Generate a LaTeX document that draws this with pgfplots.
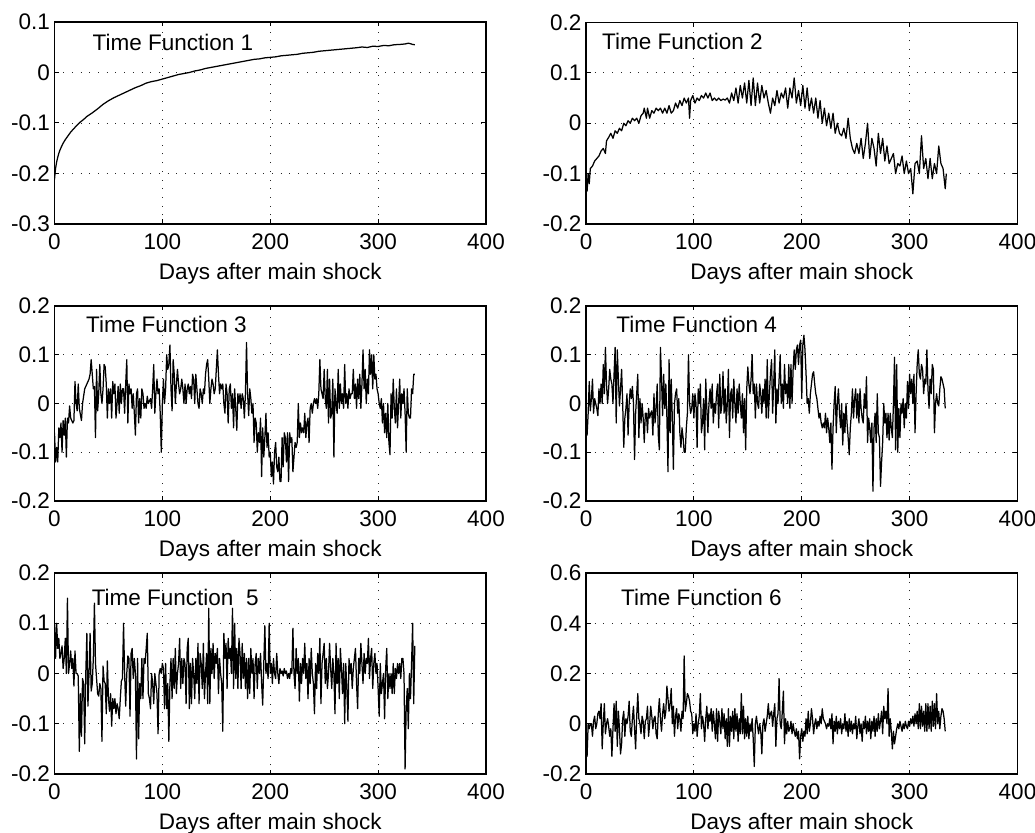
\documentclass[border=0pt]{standalone}
\usepackage{fontspec}
\setmainfont{Liberation Sans}
\usepackage{pgfplots}
\pgfplotsset{compat=1.18}
\newcommand{\tf}{\fontsize{22.5}{26}\selectfont}
\pgfplotsset{
  tfax/.style={
    scale only axis, width=431.5pt, anchor=south west,
    xmin=0, xmax=400, xtick={0,100,200,300,400}, xticklabels={0,100,200,300,400},
    tick align=inside, xtick pos=both, ytick pos=both, major tick length=4.5pt,
    grid=major, grid style={black!85, line width=0.9pt, dash pattern=on 0.9pt off 7.8pt},
    axis line style={line width=1.1pt},
    every tick/.style={black, line width=1pt},
    tick label style={font=\tf, inner sep=0pt},
    xticklabel style={yshift=-9.5pt},
    yticklabel style={xshift=-4.5pt},
    xlabel={Days after main shock},
    every axis x label/.style={font=\tf, at={(axis description cs:0.5,0)}, anchor=north, inner sep=0pt, yshift=-39pt},
    cycle list={{black, mark=none}},
    every axis plot post/.append style={black, line width=1.25pt, mark=none, line join=round},
  }
}
\begin{document}
\begin{tikzpicture}
\path[use as bounding box] (0pt,0pt) rectangle (1035pt,832pt);
% ---------------- 1
\begin{axis}[tfax, at={(54.5pt,608pt)}, height=202pt, ymin=-0.3, ymax=0.1,
  ytick={-0.3,-0.2,-0.1,0,0.1}, yticklabels={-0.3,-0.2,-0.1,0,0.1}]
\addplot coordinates {(0,-0.212)(0.5,-0.2)(1,-0.19)(2,-0.177)(3,-0.168)(4,-0.16)(5,-0.154)(6,-0.149)(8,-0.14)(10,-0.133)(12,-0.127)(15,-0.118)(18,-0.111)(21,-0.104)(24,-0.098)(27,-0.093)(30,-0.087)(35,-0.08)(40,-0.072)(45,-0.063)(50,-0.056)(55,-0.05)(60,-0.045)(65,-0.04)(70,-0.035)(75,-0.03)(80,-0.026)(85,-0.021)(90,-0.018)(95,-0.016)(100,-0.013)(105,-0.01)(110,-0.007)(115,-0.004)(120,-0.002)(125,0.0)(130,0.003)(135,0.005)(140,0.008)(145,0.01)(150,0.012)(155,0.014)(160,0.016)(165,0.018)(170,0.02)(175,0.022)(180,0.024)(185,0.026)(190,0.027)(195,0.029)(200,0.03)(205,0.031)(210,0.033)(215,0.034)(220,0.035)(225,0.036)(230,0.038)(235,0.039)(240,0.04)(245,0.042)(250,0.043)(255,0.044)(260,0.045)(265,0.046)(270,0.047)(275,0.048)(280,0.049)(285,0.0505)(290,0.0495)(295,0.052)(300,0.0515)(305,0.0535)(310,0.053)(315,0.055)(320,0.0555)(325,0.0565)(328,0.058)(330,0.057)(332,0.0555)(334,0.055)};
\node[anchor=west, font=\tf, inner sep=0pt] at (rel axis cs:0.088,0.9) {Time Function 1};
\end{axis}
% ---------------- 2
\begin{axis}[tfax, at={(586pt,608pt)}, height=201.5pt, ymin=-0.2, ymax=0.2,
  ytick={-0.2,-0.1,0,0.1,0.2}, yticklabels={-0.2,-0.1,0,0.1,0.2}]
\addplot coordinates {(0,-0.12)(1,-0.135)(2,-0.1)(3,-0.12)(4,-0.09)(6,-0.085)(8,-0.075)(10,-0.07)(12,-0.065)(14,-0.055)(16,-0.05)(18,-0.06)(19,-0.035)(21,-0.028)(23,-0.02)(25,-0.03)(27,-0.015)(29,-0.02)(31,-0.01)(33,-0.015)(35,0.0)(37,-0.005)(39,0.005)(41,0.0)(43,0.01)(45,0.005)(47,0.01)(49,0.0)(51,0.015)(53,0.02)(54,0.03)(56,0.01)(57,0.03)(59,0.01)(61,0.025)(63,0.02)(65,0.03)(67,0.025)(69,0.03)(71,0.02)(73,0.03)(75,0.02)(77,0.035)(79,0.02)(81,0.025)(83,0.04)(85,0.03)(87,0.045)(89,0.035)(91,0.05)(93,0.04)(95,0.05)(96,0.01)(97,0.045)(99,0.055)(101,0.04)(103,0.05)(105,0.045)(107,0.055)(109,0.05)(111,0.06)(113,0.05)(115,0.06)(117,0.045)(119,0.05)(121,0.045)(123,0.05)(125,0.045)(127,0.048)(129,0.046)(131,0.05)(133,0.04)(135,0.06)(137,0.045)(139,0.07)(141,0.04)(143,0.075)(145,0.05)(147,0.08)(149,0.04)(151,0.085)(153,0.035)(155,0.09)(157,0.035)(159,0.08)(161,0.04)(163,0.075)(165,0.05)(167,0.065)(169,0.04)(171,0.02)(173,0.05)(175,0.035)(177,0.065)(179,0.04)(181,0.06)(183,0.05)(185,0.07)(187,0.03)(189,0.07)(191,0.05)(193,0.09)(195,0.04)(197,0.065)(199,0.035)(201,0.075)(203,0.03)(205,0.07)(207,0.025)(209,0.05)(211,0.02)(213,0.05)(215,0.01)(217,0.045)(219,0.0)(221,0.03)(223,-0.005)(225,0.02)(227,-0.01)(229,0.02)(231,-0.02)(233,0.0)(235,-0.02)(237,-0.025)(239,-0.01)(241,-0.03)(243,0.01)(245,-0.03)(247,-0.05)(249,-0.06)(251,-0.04)(253,-0.06)(255,-0.03)(257,-0.07)(259,-0.04)(261,0.0)(263,-0.07)(265,-0.03)(267,-0.05)(269,-0.085)(271,-0.02)(273,-0.06)(275,-0.03)(277,-0.075)(279,-0.045)(281,-0.08)(283,-0.07)(285,-0.06)(287,-0.1)(289,-0.08)(291,-0.085)(293,-0.065)(295,-0.1)(297,-0.075)(299,-0.1)(301,-0.09)(303,-0.14)(305,-0.08)(307,-0.075)(309,-0.1)(311,-0.025)(313,-0.09)(315,-0.07)(317,-0.11)(319,-0.07)(321,-0.11)(323,-0.08)(325,-0.1)(327,-0.045)(329,-0.08)(331,-0.09)(333,-0.13)(334,-0.1)};
\node[anchor=west, font=\tf, inner sep=0pt] at (rel axis cs:0.037,0.905) {Time Function 2};
\end{axis}
% ---------------- 3
\begin{axis}[tfax, at={(54.5pt,331pt)}, height=195pt, ymin=-0.2, ymax=0.2,
  ytick={-0.2,-0.1,0,0.1,0.2}, yticklabels={-0.2,-0.1,0,0.1,0.2}]
\addplot coordinates {(0,-0.06)(1,-0.12)(2,-0.09)(3,-0.12)(4,-0.05)(5,-0.07)(6,-0.04)(7,-0.1)(8,-0.035)(9,-0.065)(10,-0.03)(11,-0.11)(12,-0.03)(13,-0.04)(14,-0.005)(15,-0.03)(16,-0.035)(17,-0.04)(18,-0.035)(19,0.045)(20,0.0)(21,-0.015)(22,0.04)(23,-0.01)(25,-0.035)(26,0.0)(28,0.03)(29,0.035)(30,0.04)(31,0.045)(32,0.05)(33,0.06)(34,0.09)(35,0.06)(36,0.03)(37,0.035)(38,-0.07)(39,0.07)(40,-0.015)(41,0.02)(42,0.08)(43,0.02)(44,0.0)(45,0.03)(46,0.08)(47,0.075)(48,0.04)(49,-0.03)(50,0.03)(51,0.0)(52,0.03)(53,-0.03)(54,0.045)(55,0.02)(56,0.04)(57,-0.03)(58,0.0)(59,0.035)(60,-0.02)(61,0.04)(62,0.0)(63,0.03)(64,0.03)(65,-0.02)(66,0.04)(67,0.09)(68,-0.04)(69,0.04)(70,0.02)(71,0.03)(72,-0.01)(73,0.02)(74,-0.02)(75,-0.065)(76,0.02)(77,0.03)(78,-0.04)(79,0.01)(80,-0.03)(81,0.03)(82,0.02)(83,-0.01)(84,0.0)(85,-0.01)(86,0.015)(87,0.0)(88,0.005)(89,0.01)(90,-0.01)(91,0.03)(92,0.08)(93,-0.02)(94,0.02)(95,0.05)(96,0.02)(97,0.03)(98,-0.02)(99,-0.1)(100,0.0)(101,0.05)(102,0.0)(103,0.03)(104,0.1)(105,0.07)(106,0.08)(107,0.12)(108,0.03)(109,-0.015)(110,0.09)(111,0.06)(112,0.0)(113,0.04)(114,0.07)(115,0.04)(116,0.02)(117,0.03)(118,0.05)(119,0.03)(120,0.0)(121,0.04)(122,0.0)(123,0.03)(124,0.04)(125,0.02)(126,0.035)(127,0.01)(128,0.06)(129,0.05)(130,0.0)(131,0.06)(132,0.03)(133,0.0)(134,-0.01)(135,0.03)(136,0.02)(137,0.0)(138,0.03)(139,0.02)(140,0.06)(141,0.08)(142,0.09)(143,0.05)(144,0.0)(145,0.03)(146,0.05)(147,0.04)(148,0.02)(149,0.03)(150,0.07)(151,0.11)(152,0.06)(153,0.02)(154,0.04)(155,0.03)(156,0.04)(157,0.0)(158,-0.02)(159,0.04)(160,0.02)(161,-0.04)(162,0.03)(163,0.04)(164,-0.01)(165,0.02)(166,-0.05)(167,0.03)(168,-0.01)(169,-0.055)(170,0.02)(171,0.0)(172,0.02)(173,-0.01)(174,0.02)(175,0.01)(176,-0.03)(177,0.02)(178,0.125)(179,0.02)(180,-0.025)(181,0.03)(182,0.01)(183,-0.02)(184,0.0)(185,-0.08)(186,-0.03)(187,-0.04)(188,-0.1)(189,-0.06)(190,-0.08)(191,-0.03)(192,-0.15)(193,-0.05)(194,-0.11)(195,-0.07)(196,-0.02)(197,-0.09)(198,-0.06)(199,-0.11)(200,-0.1)(201,-0.15)(202,-0.12)(203,-0.165)(204,-0.1)(205,-0.08)(206,-0.13)(207,-0.14)(208,-0.11)(209,-0.16)(210,-0.16)(211,-0.07)(212,-0.13)(213,-0.06)(214,-0.07)(215,-0.12)(216,-0.06)(217,-0.16)(218,-0.06)(219,-0.08)(220,-0.07)(221,-0.14)(222,-0.11)(223,-0.08)(224,-0.09)(225,-0.08)(226,0.0)(227,-0.07)(228,-0.04)(229,-0.06)(230,-0.05)(231,-0.06)(232,-0.02)(233,-0.07)(234,-0.04)(235,-0.03)(236,-0.08)(237,-0.01)(238,0.0)(239,-0.02)(240,0.0)(241,0.01)(242,0.0)(243,0.01)(244,-0.01)(245,0.02)(246,0.09)(247,0.03)(248,0.02)(249,0.01)(250,0.07)(251,0.01)(252,-0.01)(253,0.07)(254,-0.04)(255,0.05)(256,-0.03)(257,-0.02)(258,0.05)(259,-0.11)(260,0.03)(261,0.0)(262,-0.02)(263,0.07)(264,-0.01)(265,0.04)(266,0.0)(267,0.02)(268,-0.01)(269,0.08)(270,0.0)(271,0.02)(272,-0.01)(273,0.03)(274,0.01)(275,0.02)(276,0.02)(277,0.07)(278,0.01)(279,0.04)(280,-0.01)(281,0.05)(282,0.01)(283,0.06)(284,-0.01)(285,0.04)(286,0.11)(287,0.03)(288,0.07)(289,0.0)(290,0.05)(291,0.02)(292,0.11)(293,0.06)(294,0.1)(295,0.03)(296,0.1)(297,0.05)(298,0.06)(299,0.03)(300,0.02)(301,0.0)(302,-0.01)(303,0.01)(304,-0.04)(305,0.0)(306,-0.06)(307,-0.02)(308,-0.07)(309,0.0)(310,-0.08)(311,-0.105)(312,0.02)(313,-0.03)(314,0.05)(315,-0.01)(316,-0.04)(317,0.03)(318,-0.05)(319,0.0)(320,0.05)(321,-0.03)(322,0.02)(323,0.0)(324,0.03)(325,-0.02)(326,-0.1)(327,0.03)(328,-0.02)(329,-0.03)(330,-0.03)(331,0.03)(332,0.02)(333,0.06)(334,0.06)};
\node[anchor=west, font=\tf, inner sep=0pt] at (rel axis cs:0.073,0.906) {Time Function 3};
\end{axis}
% ---------------- 4
\begin{axis}[tfax, at={(586pt,331pt)}, height=195pt, ymin=-0.2, ymax=0.2,
  ytick={-0.2,-0.1,0,0.1,0.2}, yticklabels={-0.2,-0.1,0,0.1,0.2}]
\addplot coordinates {(0,-0.03)(1,-0.065)(2,-0.02)(3,0.045)(4,-0.015)(5,0.01)(6,0.05)(7,-0.02)(8,0.01)(9,0.0)(10,-0.01)(11,-0.025)(12,0.03)(13,0.0)(14,0.04)(15,0.0)(16,0.08)(17,0.02)(18,0.115)(19,0.04)(20,0.0)(21,0.03)(22,0.07)(23,0.05)(24,0.04)(25,0.0)(26,0.06)(27,0.115)(28,-0.04)(29,0.11)(30,0.05)(31,-0.005)(32,0.03)(33,0.07)(34,0.0)(35,-0.09)(36,-0.03)(37,-0.01)(38,0.02)(39,-0.065)(40,0.0)(41,0.03)(42,0.01)(43,0.035)(44,0.0)(45,-0.115)(46,-0.02)(47,0.02)(48,0.06)(49,-0.07)(50,0.01)(51,-0.04)(52,0.0)(53,-0.03)(54,-0.08)(55,-0.02)(56,-0.02)(57,-0.06)(58,-0.01)(59,-0.03)(60,-0.02)(61,-0.015)(62,-0.065)(63,0.02)(64,-0.04)(65,-0.01)(66,0.04)(67,-0.065)(68,-0.095)(69,0.115)(70,0.05)(71,-0.025)(72,0.06)(73,-0.01)(74,0.04)(75,-0.03)(76,-0.14)(77,0.09)(78,-0.06)(79,0.05)(80,-0.03)(81,-0.135)(82,0.0)(83,0.02)(84,0.03)(85,-0.02)(86,0.01)(87,-0.06)(88,-0.09)(89,-0.05)(90,-0.07)(91,-0.1)(92,-0.1)(93,-0.05)(94,-0.02)(95,0.1)(96,0.0)(97,-0.02)(98,-0.01)(99,0.02)(100,-0.03)(101,0.02)(102,0.0)(103,-0.09)(104,0.03)(105,0.0)(106,0.04)(107,-0.06)(108,-0.04)(109,0.01)(110,-0.095)(111,0.05)(112,-0.01)(113,-0.06)(114,0.0)(115,0.03)(116,-0.01)(117,0.04)(118,-0.04)(119,0.0)(120,-0.02)(121,0.02)(122,0.04)(123,-0.05)(124,0.06)(125,-0.02)(126,0.0)(127,0.065)(128,-0.02)(129,0.03)(130,-0.04)(131,0.0)(132,0.07)(133,-0.07)(134,0.02)(135,0.03)(136,-0.03)(137,0.05)(138,0.0)(139,-0.04)(140,0.03)(141,-0.02)(142,0.04)(143,0.0)(144,-0.03)(145,0.02)(146,-0.06)(147,0.01)(148,-0.095)(149,0.03)(150,0.075)(151,0.04)(152,0.02)(153,0.05)(154,0.1)(155,0.02)(156,0.04)(157,-0.03)(158,0.04)(159,0.0)(160,-0.01)(161,0.04)(162,0.02)(163,-0.02)(164,0.03)(165,0.0)(166,0.05)(167,-0.03)(168,0.09)(169,-0.03)(170,0.02)(171,0.06)(172,0.09)(173,-0.02)(174,0.04)(175,0.11)(176,-0.04)(177,0.03)(178,0.0)(179,0.05)(180,0.1)(181,0.0)(182,0.04)(183,-0.01)(184,0.08)(185,0.02)(186,0.04)(187,0.0)(188,0.08)(189,-0.01)(190,0.08)(191,0.0)(192,0.07)(193,0.11)(194,0.07)(195,0.11)(196,0.12)(197,0.08)(198,0.12)(199,0.13)(200,0.01)(201,0.12)(202,0.14)(203,0.11)(204,0.06)(205,0.0)(206,0.01)(207,-0.02)(208,0.02)(209,0.04)(210,0.06)(211,0.065)(212,0.04)(213,0.02)(214,0.01)(215,-0.01)(216,-0.03)(217,-0.02)(218,-0.04)(219,-0.05)(220,-0.04)(221,-0.05)(222,-0.02)(223,-0.06)(224,-0.03)(225,-0.05)(226,-0.08)(227,-0.04)(228,-0.135)(229,-0.05)(230,0.0)(231,0.035)(232,-0.06)(233,0.0)(234,0.03)(235,-0.02)(236,-0.05)(237,0.0)(238,-0.085)(239,-0.02)(240,-0.06)(241,0.0)(242,-0.04)(243,-0.07)(244,-0.105)(245,-0.05)(246,-0.02)(247,0.03)(248,-0.03)(249,0.01)(250,0.03)(251,-0.03)(252,0.02)(253,-0.04)(254,0.03)(255,-0.01)(256,-0.03)(257,-0.04)(258,0.02)(259,-0.01)(260,0.055)(261,-0.08)(262,-0.03)(263,-0.05)(264,-0.08)(265,-0.04)(266,-0.18)(267,-0.05)(268,-0.02)(269,-0.08)(270,0.02)(271,-0.06)(272,-0.07)(273,-0.17)(274,-0.12)(275,-0.08)(276,0.0)(277,-0.04)(278,-0.02)(279,-0.07)(280,-0.02)(281,-0.075)(282,-0.02)(283,-0.05)(284,-0.07)(285,0.0)(286,0.095)(287,-0.095)(288,0.08)(289,-0.1)(290,-0.01)(291,-0.07)(292,0.0)(293,-0.02)(294,0.01)(295,-0.05)(296,0.0)(297,-0.03)(298,0.045)(299,-0.01)(300,0.06)(301,0.02)(302,0.05)(303,0.0)(304,0.06)(305,-0.06)(306,0.02)(307,0.08)(308,0.11)(309,0.06)(310,0.05)(311,0.08)(312,0.07)(313,0.02)(314,0.05)(315,0.04)(316,0.11)(317,0.03)(318,-0.01)(319,0.05)(320,0.02)(321,0.08)(322,0.07)(323,-0.06)(324,0.0)(325,0.02)(326,0.0)(327,-0.005)(328,0.03)(329,0.055)(330,0.05)(331,0.04)(332,0.03)(333,-0.01)};
\node[anchor=west, font=\tf, inner sep=0pt] at (rel axis cs:0.07,0.906) {Time Function 4};
\end{axis}
% ---------------- 5
\begin{axis}[tfax, at={(54.5pt,58pt)}, height=201pt, ymin=-0.2, ymax=0.2,
  ytick={-0.2,-0.1,0,0.1,0.2}, yticklabels={-0.2,-0.1,0,0.1,0.2}]
\node[anchor=west, font=\tf, inner sep=0pt] at (rel axis cs:0.086,0.877) {Time Function~~5};
\addplot coordinates {(0,0.1)(1,0.03)(2,0.1)(3,0.05)(4,0.07)(5,0.03)(6,0.04)(7,0.055)(8,0.01)(9,0.03)(10,0.07)(11,0.0)(12,0.15)(13,0.0)(14,0.02)(15,0.045)(16,0.01)(17,0.03)(18,-0.025)(19,0.045)(20,0.0)(21,0.0)(22,-0.005)(23,-0.155)(24,-0.04)(25,-0.125)(26,-0.01)(27,-0.02)(28,-0.14)(29,0.0)(30,0.08)(31,-0.065)(32,0.0)(33,0.08)(34,-0.035)(35,-0.02)(36,0.03)(37,0.14)(38,0.02)(39,-0.01)(40,-0.04)(41,-0.045)(42,-0.02)(43,-0.03)(44,-0.135)(45,0.015)(46,-0.015)(47,-0.02)(48,-0.08)(49,0.025)(50,-0.05)(51,-0.075)(52,-0.04)(53,-0.105)(54,-0.05)(55,-0.07)(56,-0.05)(57,-0.08)(58,-0.06)(59,-0.07)(60,-0.09)(61,-0.05)(62,-0.015)(63,-0.01)(64,0.1)(65,0.0)(66,-0.065)(67,0.0)(68,0.035)(69,0.03)(70,-0.085)(71,0.04)(72,0.05)(73,-0.01)(74,0.03)(75,0.0)(76,-0.17)(77,0.03)(78,-0.13)(79,-0.02)(80,-0.05)(81,0.03)(82,-0.05)(83,0.03)(84,0.02)(85,0.05)(86,0.08)(87,-0.04)(88,-0.05)(89,-0.07)(90,0.0)(91,-0.02)(92,-0.06)(93,0.0)(94,-0.02)(95,-0.04)(96,-0.12)(97,0.0)(98,0.01)(99,0.0)(100,0.02)(101,0.01)(102,-0.07)(103,0.02)(104,-0.07)(105,-0.02)(106,-0.135)(107,-0.02)(108,0.03)(109,-0.05)(110,0.03)(111,-0.03)(112,0.05)(113,-0.04)(114,0.0)(115,0.02)(116,0.07)(117,-0.03)(118,0.03)(119,-0.02)(120,0.03)(121,0.02)(122,-0.06)(123,0.05)(124,0.07)(125,-0.07)(126,0.02)(127,-0.06)(128,0.03)(129,0.0)(130,-0.05)(131,0.03)(132,-0.02)(133,0.06)(134,-0.06)(135,0.04)(136,0.02)(137,-0.03)(138,0.06)(139,-0.05)(140,0.0)(141,0.04)(142,-0.06)(143,0.13)(144,-0.06)(145,0.05)(146,0.0)(147,0.06)(148,-0.01)(149,0.04)(150,0.02)(151,0.05)(152,-0.04)(153,0.03)(154,0.0)(155,-0.02)(156,-0.115)(157,0.08)(158,0.03)(159,0.06)(160,-0.03)(161,0.07)(162,0.03)(163,0.05)(164,0.0)(165,0.13)(166,-0.03)(167,0.1)(168,-0.01)(169,0.05)(170,-0.03)(171,0.07)(172,0.04)(173,-0.03)(174,0.06)(175,-0.01)(176,0.04)(177,-0.03)(178,0.03)(179,-0.05)(180,0.03)(181,-0.04)(182,0.05)(183,0.0)(184,0.03)(185,-0.05)(186,0.02)(187,0.04)(188,-0.03)(189,0.03)(190,0.0)(191,0.04)(192,-0.02)(193,-0.063)(194,0.02)(195,0.095)(196,0.0)(197,0.02)(198,-0.01)(199,0.1)(200,0.0)(201,0.02)(202,-0.02)(203,0.03)(204,0.0)(205,-0.01)(206,0.04)(207,0.0)(208,-0.02)(209,0.01)(210,0.0)(211,0.005)(212,-0.005)(213,0.01)(214,0.0)(215,0.005)(216,-0.01)(217,0.0)(218,-0.01)(219,0.01)(220,0.0)(221,0.09)(222,0.0)(223,-0.03)(224,0.05)(225,0.0)(226,0.03)(227,-0.055)(228,0.02)(229,-0.02)(230,0.03)(231,0.0)(232,0.06)(233,-0.01)(234,0.02)(235,-0.05)(236,0.03)(237,-0.02)(238,0.05)(239,0.0)(240,-0.02)(241,-0.08)(242,0.02)(243,-0.03)(244,0.04)(245,0.0)(246,0.07)(247,-0.06)(248,0.02)(249,0.04)(250,0.06)(251,-0.02)(252,0.03)(253,-0.03)(254,0.0)(255,0.06)(256,0.01)(257,-0.03)(258,0.03)(259,0.0)(260,-0.08)(261,0.06)(262,-0.02)(263,0.03)(264,-0.05)(265,0.05)(266,0.01)(267,-0.04)(268,0.02)(269,-0.1)(270,0.02)(271,-0.03)(272,-0.095)(273,0.03)(274,0.0)(275,0.02)(276,-0.03)(277,0.01)(278,0.03)(279,0.05)(280,-0.02)(281,-0.07)(282,0.03)(283,0.0)(284,0.06)(285,0.02)(286,-0.02)(287,0.04)(288,0.0)(289,0.03)(290,0.02)(291,0.07)(292,-0.01)(293,0.03)(294,0.05)(295,-0.03)(296,0.02)(297,0.04)(298,0.0)(299,0.02)(300,-0.03)(301,-0.085)(302,0.02)(303,-0.04)(304,-0.02)(305,0.0)(306,-0.09)(307,0.01)(308,0.05)(309,-0.05)(310,0.0)(311,-0.03)(312,0.0)(313,-0.04)(314,0.02)(315,-0.04)(316,0.01)(317,-0.01)(318,0.02)(319,0.0)(320,0.02)(321,-0.01)(322,0.03)(323,0.03)(324,0.0)(325,-0.19)(326,-0.07)(327,-0.03)(328,-0.11)(329,0.0)(330,-0.05)(331,0.02)(332,0.1)(333,-0.06)(334,0.055)};
\end{axis}
% ---------------- 6
\begin{axis}[tfax, at={(586pt,58pt)}, height=201pt, ymin=-0.2, ymax=0.6,
  ytick={-0.2,0,0.2,0.4,0.6}, yticklabels={-0.2,0,0.2,0.4,0.6}]
\addplot coordinates {(0,0.0)(1,-0.13)(2,0.0)(3,-0.02)(4,0.0)(5,0.0)(6,-0.05)(7,0.01)(8,0.03)(9,-0.02)(10,0.0)(11,0.04)(12,0.05)(13,0.02)(14,0.08)(15,-0.1)(16,0.0)(17,0.08)(18,-0.04)(19,0.0)(20,0.02)(21,-0.01)(22,-0.05)(23,-0.02)(24,-0.13)(25,-0.02)(26,0.08)(27,-0.03)(28,0.09)(29,-0.09)(30,0.05)(31,-0.02)(32,-0.12)(33,-0.08)(34,0.02)(35,0.05)(36,-0.05)(37,0.02)(38,0.0)(39,0.03)(40,0.09)(41,-0.03)(42,-0.05)(43,0.02)(44,0.07)(45,-0.02)(46,-0.1)(47,0.03)(48,0.12)(49,0.02)(50,0.0)(51,-0.04)(52,0.03)(53,0.01)(54,-0.06)(55,0.01)(56,0.02)(57,0.07)(58,-0.05)(59,0.0)(60,0.07)(61,0.03)(62,-0.02)(63,0.02)(64,0.03)(65,-0.04)(66,-0.06)(67,0.04)(68,0.1)(69,0.02)(70,-0.03)(71,0.04)(72,0.08)(73,0.02)(74,0.05)(75,0.15)(76,0.1)(77,0.05)(78,0.08)(79,0.14)(80,0.0)(81,0.07)(82,-0.05)(83,0.03)(84,0.06)(85,-0.02)(86,0.04)(87,0.02)(88,-0.03)(89,0.05)(90,0.02)(91,0.27)(92,0.05)(93,0.08)(94,0.12)(95,0.11)(96,0.09)(97,0.05)(98,0.04)(99,-0.04)(100,0.0)(101,-0.03)(102,0.04)(103,-0.05)(104,0.0)(105,0.03)(106,0.12)(107,-0.02)(108,0.03)(109,0.0)(110,-0.07)(111,0.02)(112,0.07)(113,-0.02)(114,0.04)(115,0.01)(116,0.06)(117,-0.03)(118,0.05)(119,0.0)(120,-0.06)(121,0.06)(122,-0.07)(123,0.05)(124,0.01)(125,-0.04)(126,0.06)(127,-0.02)(128,0.04)(129,-0.06)(130,0.02)(131,-0.09)(132,0.06)(133,-0.09)(134,0.03)(135,-0.03)(136,0.05)(137,-0.06)(138,0.06)(139,-0.03)(140,0.04)(141,-0.07)(142,0.02)(143,-0.04)(144,0.12)(145,-0.04)(146,0.07)(147,-0.06)(148,0.02)(149,-0.05)(150,0.03)(151,-0.06)(152,0.0)(153,-0.03)(154,0.02)(155,-0.06)(156,-0.17)(157,0.0)(158,0.03)(159,-0.01)(160,-0.04)(161,0.0)(162,-0.03)(163,-0.12)(164,0.0)(165,0.02)(166,-0.03)(167,0.0)(168,0.03)(169,0.08)(170,0.02)(171,0.04)(172,0.05)(173,-0.01)(174,0.04)(175,0.08)(176,-0.09)(177,0.02)(178,0.04)(179,0.18)(180,0.0)(181,-0.02)(182,0.05)(183,0.13)(184,-0.08)(185,0.02)(186,-0.04)(187,0.01)(188,-0.03)(189,-0.02)(190,0.01)(191,-0.04)(192,0.0)(193,-0.03)(194,-0.05)(195,-0.02)(196,-0.06)(197,-0.03)(198,-0.14)(199,-0.05)(200,-0.02)(201,-0.07)(202,-0.03)(203,-0.05)(204,0.02)(205,-0.04)(206,0.05)(207,-0.03)(208,0.0)(209,0.06)(210,0.02)(211,-0.04)(212,0.0)(213,0.02)(214,-0.02)(215,0.01)(216,-0.01)(217,0.03)(218,0.0)(219,0.06)(220,0.02)(221,0.01)(222,0.0)(223,-0.02)(224,0.0)(225,-0.01)(226,0.02)(227,-0.02)(228,0.04)(229,-0.08)(230,0.01)(231,-0.03)(232,0.03)(233,-0.04)(234,0.01)(235,-0.02)(236,0.02)(237,-0.04)(238,0.0)(239,-0.02)(240,0.04)(241,-0.03)(242,0.01)(243,-0.05)(244,0.02)(245,-0.03)(246,0.01)(247,-0.04)(248,0.0)(249,-0.02)(250,0.03)(251,-0.06)(252,-0.01)(253,0.02)(254,-0.04)(255,0.0)(256,-0.07)(257,0.01)(258,-0.02)(259,0.03)(260,-0.04)(261,0.01)(262,-0.03)(263,0.02)(264,-0.06)(265,0.01)(266,-0.03)(267,0.03)(268,-0.05)(269,0.02)(270,-0.03)(271,0.04)(272,-0.02)(273,0.01)(274,0.05)(275,-0.04)(276,0.07)(277,0.02)(278,0.05)(279,0.0)(280,0.14)(281,-0.05)(282,0.02)(283,-0.03)(284,-0.1)(285,-0.03)(286,-0.08)(287,-0.05)(288,-0.02)(289,0.0)(290,-0.02)(291,0.01)(292,-0.01)(293,-0.03)(294,0.0)(295,-0.02)(296,0.01)(297,-0.01)(298,-0.02)(299,0.01)(300,-0.01)(301,0.02)(302,0.0)(303,0.03)(304,-0.01)(305,0.04)(306,0.0)(307,0.05)(308,-0.02)(309,0.08)(310,-0.02)(311,0.07)(312,-0.01)(313,0.05)(314,-0.03)(315,0.08)(316,-0.03)(317,0.08)(318,-0.02)(319,0.07)(320,-0.03)(321,0.09)(322,-0.01)(323,0.08)(324,-0.02)(325,0.12)(326,0.0)(327,0.05)(328,-0.02)(329,0.03)(330,0.06)(331,0.05)(332,0.02)(333,-0.03)};
\node[anchor=west, font=\tf, inner sep=0pt] at (rel axis cs:0.081,0.877) {Time Function 6};
\end{axis}
\end{tikzpicture}
\end{document}
